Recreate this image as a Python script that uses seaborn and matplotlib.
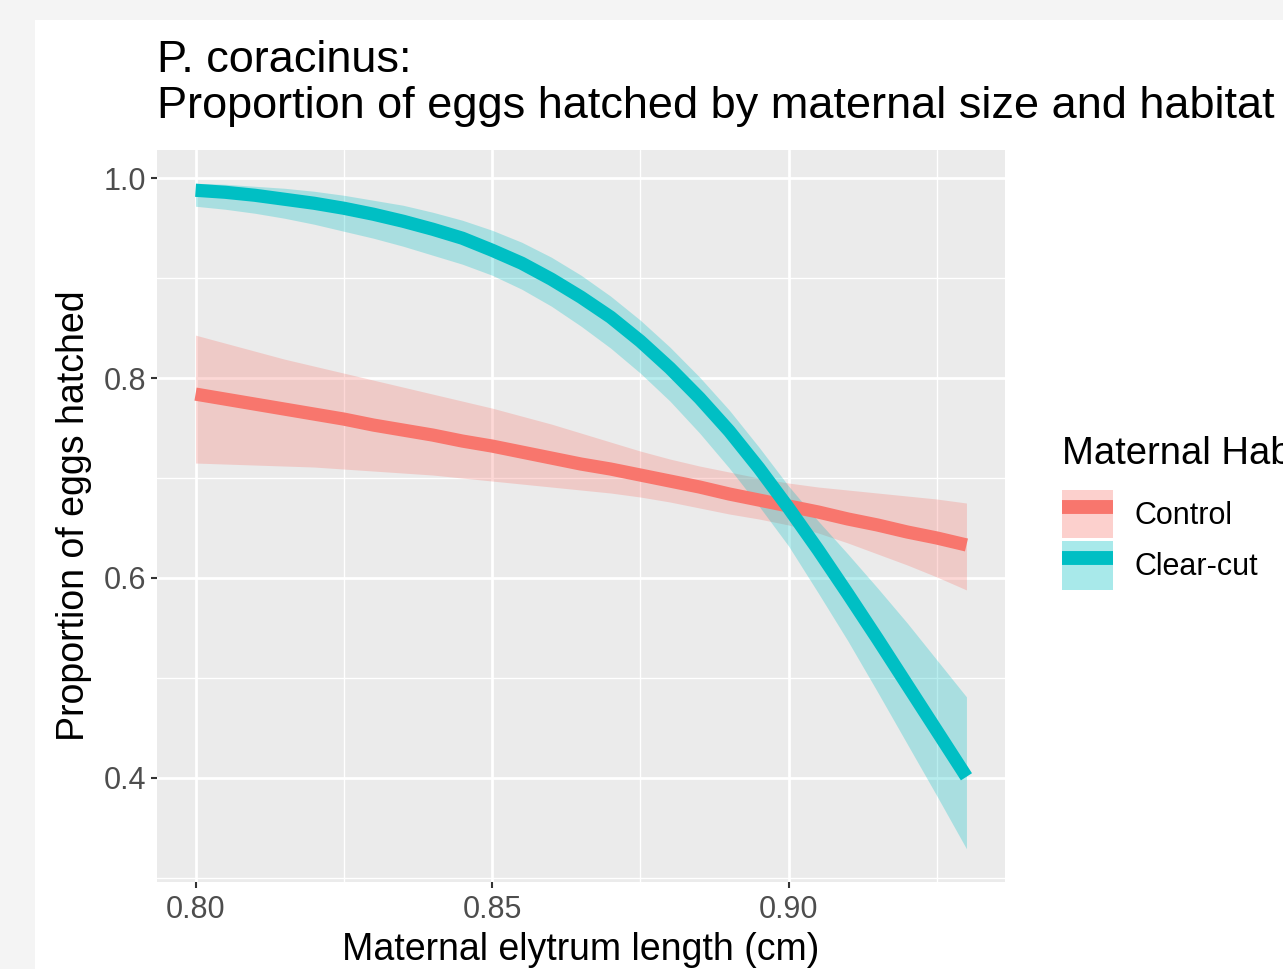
import numpy as np
import pandas as pd
import matplotlib
matplotlib.use("Agg")
import matplotlib.pyplot as plt
from matplotlib.patches import Patch, Rectangle
from matplotlib.lines import Line2D
from matplotlib.ticker import FixedLocator
import seaborn as sns

# ---- data ----
length_cm = [0.800, 0.805, 0.810, 0.815, 0.820, 0.825, 0.830, 0.835, 0.840,
             0.845, 0.850, 0.855, 0.860, 0.865, 0.870, 0.875, 0.880, 0.885,
             0.890, 0.895, 0.900, 0.905, 0.910, 0.915, 0.920, 0.925, 0.930]

control_fit = [0.784, 0.779, 0.774, 0.769, 0.764, 0.759, 0.753, 0.748, 0.743,
               0.737, 0.732, 0.726, 0.720, 0.714, 0.709, 0.703, 0.697, 0.691,
               0.684, 0.678, 0.672, 0.666, 0.659, 0.653, 0.646, 0.640, 0.633]
control_lo = [0.715, 0.714, 0.713, 0.712, 0.711, 0.709, 0.707, 0.705, 0.703,
              0.700, 0.697, 0.694, 0.691, 0.688, 0.685, 0.681, 0.676, 0.670,
              0.664, 0.659, 0.653, 0.645, 0.635, 0.624, 0.613, 0.601, 0.588]
control_hi = [0.843, 0.835, 0.827, 0.819, 0.812, 0.805, 0.798, 0.791, 0.784,
              0.777, 0.770, 0.762, 0.754, 0.745, 0.736, 0.727, 0.719, 0.712,
              0.706, 0.700, 0.695, 0.691, 0.688, 0.685, 0.682, 0.679, 0.675]

clearcut_fit = [0.988, 0.986, 0.983, 0.979, 0.975, 0.970, 0.964, 0.957, 0.949,
                0.940, 0.928, 0.915, 0.899, 0.881, 0.861, 0.837, 0.810, 0.780,
                0.747, 0.710, 0.670, 0.628, 0.584, 0.539, 0.493, 0.447, 0.401]
clearcut_lo = [0.972, 0.969, 0.965, 0.960, 0.954, 0.947, 0.940, 0.932, 0.923,
               0.914, 0.903, 0.889, 0.872, 0.852, 0.830, 0.805, 0.777, 0.745,
               0.710, 0.672, 0.632, 0.585, 0.537, 0.486, 0.434, 0.382, 0.329]
clearcut_hi = [0.995, 0.994, 0.992, 0.990, 0.987, 0.983, 0.978, 0.973, 0.966,
               0.958, 0.948, 0.936, 0.921, 0.903, 0.882, 0.858, 0.831, 0.801,
               0.768, 0.731, 0.692, 0.657, 0.624, 0.590, 0.555, 0.518, 0.481]

habitats = ["Control", "Clear-cut"]
colors = {"Control": "#F8766D", "Clear-cut": "#00BFC4"}

x_ticks = [0.80, 0.85, 0.90]
x_tick_labels = ["0.80", "0.85", "0.90"]
x_minor = [0.825, 0.875, 0.925]
y_ticks = [0.4, 0.6, 0.8, 1.0]
y_tick_labels = ["0.4", "0.6", "0.8", "1.0"]
y_minor = [0.3, 0.5, 0.7, 0.9]

title_line1 = "P. coracinus:"
title_line2 = "Proportion of eggs hatched by maternal size and habitat"
x_label = "Maternal elytrum length (cm)"
y_label = "Proportion of eggs hatched"
legend_title = "Maternal Habitat"

# ---- build table ----
df = pd.concat([
    pd.DataFrame({"length": length_cm, "fit": control_fit, "lo": control_lo,
                  "hi": control_hi, "habitat": "Control"}),
    pd.DataFrame({"length": length_cm, "fit": clearcut_fit, "lo": clearcut_lo,
                  "hi": clearcut_hi, "habitat": "Clear-cut"}),
], ignore_index=True)

sns.set_theme(style="darkgrid")
plt.rcParams["font.family"] = ["Liberation Sans", "DejaVu Sans"]
plt.rcParams["text.color"] = "black"

W, H = 1283, 969
fig = plt.figure(figsize=(W / 100, H / 100), dpi=100)
fig.patch.set_facecolor("white")
# outer light-grey screenshot margin
fig.patches.append(Rectangle((0, 0), 35 / W, 1, transform=fig.transFigure,
                             facecolor="#F4F4F4", edgecolor="none", zorder=-10))
fig.patches.append(Rectangle((0, 1 - 20 / H), 1, 20 / H, transform=fig.transFigure,
                             facecolor="#F4F4F4", edgecolor="none", zorder=-10))

L, R, T, B = 157, 1005, 150, 882
ax = fig.add_axes([L / W, 1 - B / H, (R - L) / W, (B - T) / H])
ax.set_facecolor("#EBEBEB")

lw = 9.5
for hab in habitats:
    sub = df[df["habitat"] == hab]
    ax.fill_between(sub["length"], sub["lo"], sub["hi"], color=colors[hab],
                    alpha=0.28, linewidth=0)
    sns.lineplot(data=sub, x="length", y="fit", color=colors[hab], lw=lw,
                 ax=ax, legend=False, solid_capstyle="butt")

# ggplot-like expanded limits
xmin, xmax = min(length_cm), max(length_cm)
ymin = min(min(control_lo), min(clearcut_lo))
ymax = max(max(control_hi), max(clearcut_hi))
xr, yr = xmax - xmin, ymax - ymin
ax.set_xlim(xmin - 0.05 * xr, xmax + 0.05 * xr)
ax.set_ylim(ymin - 0.05 * yr, ymax + 0.05 * yr)

ax.set_xticks(x_ticks)
ax.set_xticklabels(x_tick_labels)
ax.set_yticks(y_ticks)
ax.set_yticklabels(y_tick_labels)
ax.xaxis.set_minor_locator(FixedLocator(x_minor))
ax.yaxis.set_minor_locator(FixedLocator(y_minor))
ax.grid(which="major", color="white", linewidth=2.0)
ax.grid(which="minor", color="white", linewidth=1.0)
ax.set_axisbelow(True)
for s in ax.spines.values():
    s.set_visible(False)

ax.tick_params(axis="both", which="major", length=4.5, width=1.5, color="#333333",
               labelcolor="#4D4D4D", labelsize=22, bottom=True, left=True)
ax.tick_params(axis="x", which="major", pad=5)
ax.tick_params(axis="y", which="major", pad=3)
ax.tick_params(axis="both", which="minor", length=0)

ax.set_xlabel(x_label, fontsize=27, color="black", labelpad=5)
ax.set_ylabel(y_label, fontsize=27, color="black", labelpad=9)

fig.text(157 / W, 1 - 72 / H, title_line1, fontsize=32.5, ha="left",
         va="baseline", color="black")
fig.text(157 / W, 1 - 118 / H, title_line2, fontsize=32.5, ha="left",
         va="baseline", color="black")

handles = []
for hab in habitats:
    handles.append((Patch(facecolor=colors[hab], alpha=0.34, edgecolor="none"),
                    Line2D([], [], color=colors[hab], lw=10, solid_capstyle="butt")))
fs = 22
fspx = fs * 100 / 72
leg = fig.legend(handles, habitats, title=legend_title, loc="upper left",
                 bbox_to_anchor=(1062 / W, 1 - 436 / H), frameon=False,
                 fontsize=fs, title_fontsize=27.5, borderpad=0, borderaxespad=0,
                 handlelength=51 / fspx, handleheight=2.05,
                 labelspacing=0.1, handletextpad=22 / fspx)
leg._legend_box.align = "left"
leg._legend_box.sep = 13

fig.savefig("out.png", dpi=100)
